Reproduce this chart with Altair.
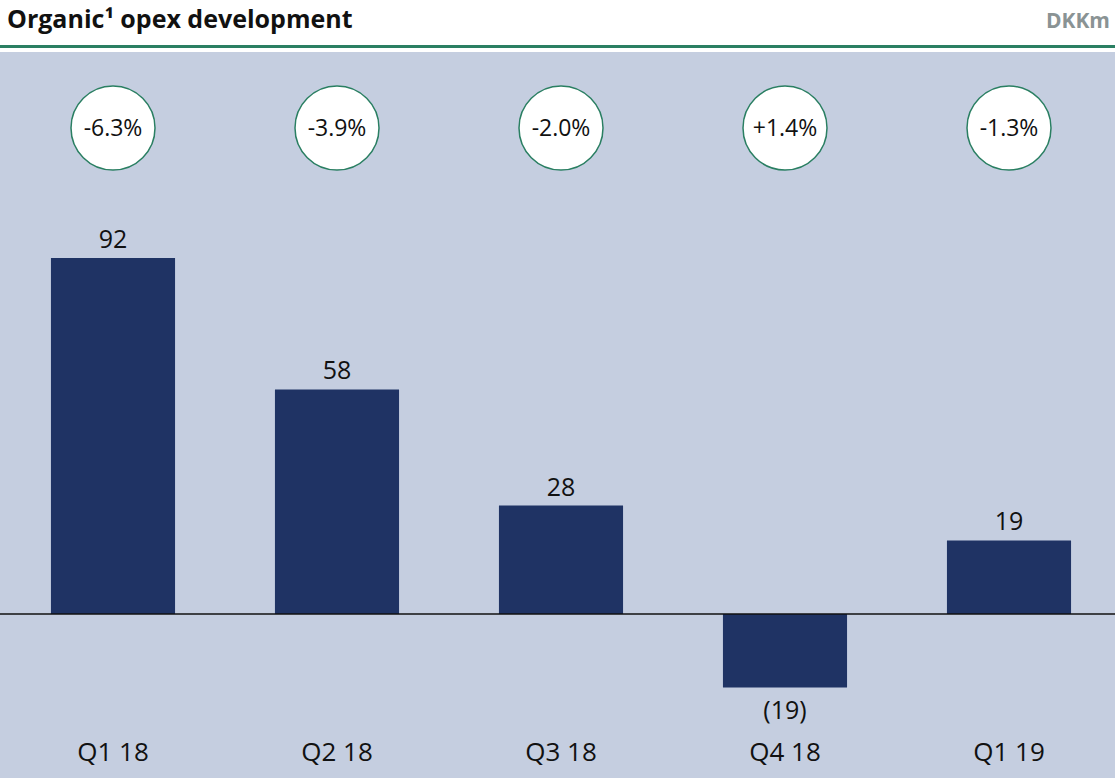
import altair as alt
import pandas as pd

quarters = ["Q1 18", "Q2 18", "Q3 18", "Q4 18", "Q1 19"]
values = [92, 58, 28, -19, 19]
value_labels = ["92", "58", "28", "(19)", "19"]
pct_labels = ["-6.3%", "-3.9%", "-2.0%", "+1.4%", "-1.3%"]

df = pd.DataFrame({
    "q": quarters,
    "v": values,
    "lab": value_labels,
    "pct": pct_labels,
})

FONT = "Open Sans"
BAR = "#1F3364"
GREEN = "#2A7F62"
BG = "#C5CEE0"
TXT = "#111111"

x = alt.X("q:N", sort=quarters, axis=None,
          scale=alt.Scale(range=[1, 1121], paddingInner=0.446, paddingOuter=0.223))
yscale = alt.Scale(domain=[-42.4, 145.2], nice=False, zero=False)
y = alt.Y("v:Q", axis=None, scale=yscale)

base = alt.Chart(df)

bars = base.mark_bar(color=BAR).encode(x=x, y=y, y2=alt.datum(0))

zero = alt.Chart(pd.DataFrame({"z": [0]})).mark_rule(color="#111111", strokeWidth=1.5).encode(
    y=alt.Y("z:Q", axis=None, scale=yscale), x=alt.value(0), x2=alt.value(1115))

pos_lab = base.transform_filter("datum.v >= 0").mark_text(
    font=FONT, fontSize=25, color=TXT, baseline="alphabetic", dy=-10
).encode(x=x, y=y, text="lab:N")

neg_lab = base.transform_filter("datum.v < 0").mark_text(
    font=FONT, fontSize=25, color=TXT, baseline="top", dy=12
).encode(x=x, y=y, text="lab:N")

cat_lab = base.mark_text(font=FONT, fontSize=26, color=TXT, baseline="middle").encode(
    x=x, y=alt.value(701), text="q:N")

circles = base.mark_point(shape="circle", size=7056, filled=False, fill="white",
                          fillOpacity=1, stroke=GREEN, strokeWidth=1.5, opacity=1).encode(
    x=x, y=alt.value(76))

pct = base.mark_text(font=FONT, fontSize=23, color=TXT, baseline="middle").encode(
    x=x, y=alt.value(77), text="pct:N")

green_line = alt.Chart(pd.DataFrame({"a": [0]})).mark_rule(color=GREEN, strokeWidth=3).encode(
    y=alt.value(-5.5), x=alt.value(0), x2=alt.value(1115))

title = alt.Chart(pd.DataFrame({"t": ["Organic¹ opex development"]})).mark_text(
    font=FONT, fontSize=25, fontWeight="bold", color="#111111", align="left", baseline="alphabetic"
).encode(x=alt.value(7), y=alt.value(-24), text="t:N")

unit = alt.Chart(pd.DataFrame({"t": ["DKKm"]})).mark_text(
    font=FONT, fontSize=21, fontWeight="bold", color="#8A9394", align="right", baseline="alphabetic"
).encode(x=alt.value(1110), y=alt.value(-24), text="t:N")

chart = alt.layer(bars, zero, pos_lab, neg_lab, cat_lab, circles, pct, green_line, title, unit).properties(
    width=1115, height=726,
    padding={"left": 0, "top": 52, "right": 0, "bottom": 0},
    autosize=alt.AutoSizeParams(type="none"),
    background="white",
).configure_view(stroke=None, fill=BG)

chart.save("out.html", embed_options={"renderer": "svg", "actions": False})
